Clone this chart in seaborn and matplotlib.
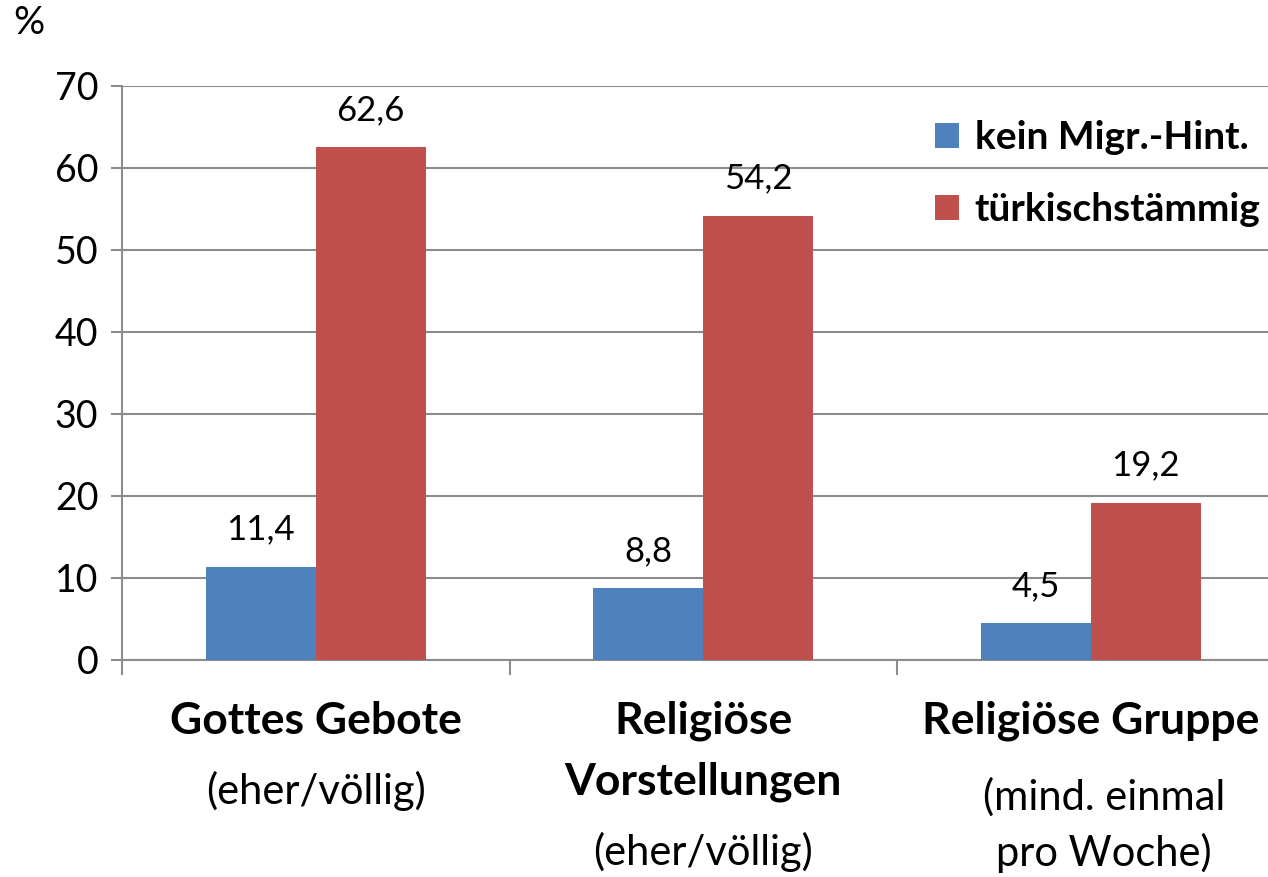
import matplotlib
matplotlib.use("Agg")
import matplotlib.pyplot as plt
import matplotlib.patches as mpatches
import matplotlib.transforms as mtransforms
import seaborn as sns
import pandas as pd

categories = ["Gottes Gebote", "Religiöse Vorstellungen", "Religiöse Gruppe"]
series_names = ["kein Migr.-Hint.", "türkischstämmig"]
kein_migr = [11.4, 8.8, 4.5]
tuerkisch = [62.6, 54.2, 19.2]
yticks = [0, 10, 20, 30, 40, 50, 60, 70]
cat_label_lines = [
    [("Gottes Gebote", "bold"), ("(eher/völlig)", "normal")],
    [("Religiöse", "bold"), ("Vorstellungen", "bold"), ("(eher/völlig)", "normal")],
    [("Religiöse Gruppe", "bold"), ("(mind. einmal", "normal"), ("pro Woche)", "normal")],
]
colors = ["#4F81BD", "#C0504D"]

sns.set_theme(style="white")
plt.rcParams["font.family"] = ["Lato", "DejaVu Sans"]
plt.rcParams["text.color"] = "black"
plt.rcParams["xtick.color"] = "black"
plt.rcParams["ytick.color"] = "black"
plt.rcParams["ytick.labelcolor"] = "black"

df = pd.DataFrame({
    "cat": categories * 2,
    "series": [series_names[0]] * 3 + [series_names[1]] * 3,
    "val": kein_migr + tuerkisch,
})

W, H = 1268, 877
fig = plt.figure(figsize=(W / 100, H / 100), dpi=100)
left, right, top, bottom = 122, 122 + 3 * 387.5, 86, 660
ax = fig.add_axes([left / W, 1 - bottom / H, (right - left) / W, (bottom - top) / H])

sns.barplot(data=df, x="cat", y="val", hue="series", palette=colors,
            width=0.568, saturation=1, ax=ax, legend=False, zorder=3, linewidth=0)

grid_c = "#8C8C8C"
ax.set_ylim(0, 70)
ax.set_xlim(-0.5, 2.5)
ax.set_yticks(yticks)
ax.set_yticklabels([str(t) for t in yticks], fontsize=27, color="black")
ax.yaxis.grid(True, color=grid_c, linewidth=1.5, zorder=0)
ax.set_axisbelow(True)
for s in ["top", "right"]:
    ax.spines[s].set_visible(False)
for s in ["left", "bottom"]:
    ax.spines[s].set_color(grid_c)
    ax.spines[s].set_linewidth(1.5)
ax.tick_params(axis="y", length=8, width=1.5, color=grid_c, pad=9, left=True)
ax.set_xticks([])
ax.set_xticks([-0.5, 0.5, 1.5, 2.5], minor=True)
ax.tick_params(axis="x", which="minor", length=11, width=1.5, color=grid_c, bottom=True)
ax.set_xlabel("")
ax.set_ylabel("")

for cont in ax.containers:
    vals = [b.get_height() for b in cont]
    ax.bar_label(cont, labels=[f"{v:.1f}".replace(".", ",") for v in vals],
                 padding=15, fontsize=25, color="black")

trans = mtransforms.blended_transform_factory(ax.transData, fig.transFigure)
line_y = [
    [721, 791],
    [721, 782, 852],
    [721, 797, 853],
]
x_off = [0, 0, 0.035]
for i, lines in enumerate(cat_label_lines):
    for j, (txt, wt) in enumerate(lines):
        xo = x_off[i] if wt == "normal" else 0
        ax.text(i + xo, 1 - line_y[i][j] / H, txt, transform=trans, ha="center",
                va="center", fontsize=32 if wt == "bold" else 30, fontweight=wt,
                color="black")

fig.text(13 / W, 1 - 23 / H, "%", fontsize=28, va="center", ha="left", color="black")

handles = [mpatches.Patch(color=c, label=n, linewidth=0) for c, n in zip(colors, series_names)]
fig.legend(handles=handles, loc="upper left", bbox_to_anchor=(935 / W, 1 - 120 / H),
           frameon=False, prop={"weight": "bold", "size": 28},
           handlelength=0.62, handleheight=0.62, handletextpad=0.4, labelspacing=0.95,
           borderpad=0, borderaxespad=0, labelcolor="black")

fig.savefig("out.png", dpi=100)
